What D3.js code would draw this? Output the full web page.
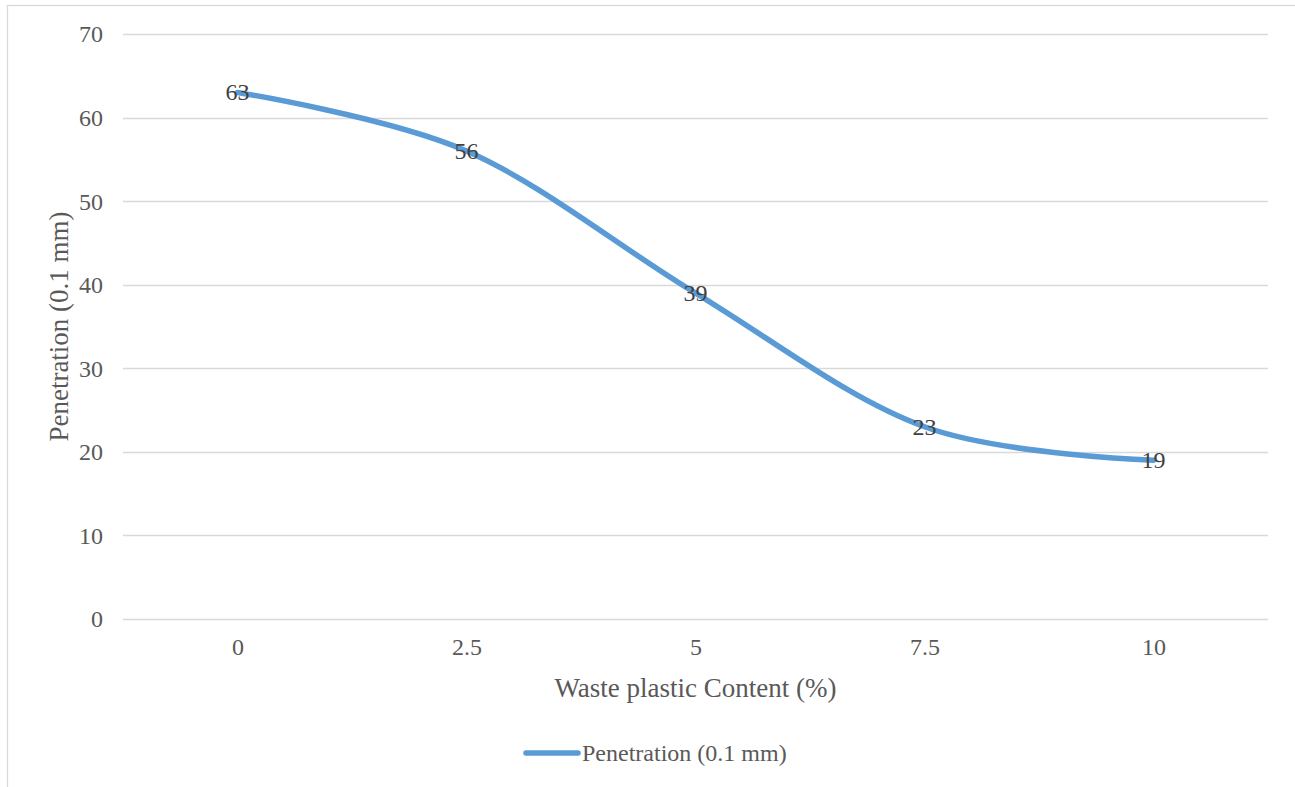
<!DOCTYPE html>
<html>
<head>
<meta charset="utf-8">
<script src="https://cdn.jsdelivr.net/npm/d3@7/dist/d3.min.js"></script>
<style>
  html, body { margin: 0; padding: 0; background: #ffffff; }
  svg { display: block; }
  text { font-family: "Liberation Serif", "Times New Roman", serif; }
</style>
</head>
<body>
<svg id="chart" width="1295" height="787"></svg>
<script>
// Penetration of binder vs waste plastic content
const categories = ["0", "2.5", "5", "7.5", "10"];
const penetration = [63, 56, 39, 23, 19];
const yTicks = [0, 10, 20, 30, 40, 50, 60, 70];
const seriesName = "Penetration (0.1 mm)";
const xTitle = "Waste plastic Content (%)";
const yTitle = "Penetration (0.1 mm)";

const svg = d3.select("#chart");
const W = 1295, H = 787;

// chart frame
svg.append("rect")
  .attr("x", 7.5).attr("y", 5.5)
  .attr("width", W + 10).attr("height", H + 10)
  .attr("fill", "#ffffff").attr("stroke", "#d9d9d9").attr("stroke-width", 1.3);

const plot = { left: 123, right: 1268, top: 34, bottom: 619 };

const x = d3.scalePoint().domain(categories)
  .range([plot.left, plot.right]).padding(0.5);
const y = d3.scaleLinear().domain([0, 70]).range([plot.bottom, plot.top]);

// gridlines
svg.append("g").selectAll("line").data(yTicks).join("line")
  .attr("x1", plot.left).attr("x2", plot.right)
  .attr("y1", d => Math.round(y(d)) + 0.5).attr("y2", d => Math.round(y(d)) + 0.5)
  .attr("stroke", "#d9d9d9").attr("stroke-width", 1.3);

// y axis labels
const yAxis = d3.axisLeft(y).tickValues(yTicks).tickSize(0).tickPadding(0);
const gy = svg.append("g").attr("transform", `translate(${plot.left - 20},0)`).call(yAxis);
gy.select(".domain").remove();
gy.selectAll("text")
  .attr("font-family", "Liberation Serif, Times New Roman, serif")
  .attr("font-size", 24).attr("fill", "#595959").attr("dy", "0.33em");

// x axis labels
const xAxis = d3.axisBottom(x).tickSize(0).tickPadding(0);
const gx = svg.append("g").attr("transform", `translate(0,${plot.bottom + 19})`).call(xAxis);
gx.select(".domain").remove();
gx.selectAll("text")
  .attr("font-family", "Liberation Serif, Times New Roman, serif")
  .attr("font-size", 24).attr("fill", "#595959").attr("dy", "0.71em");

// axis titles
svg.append("text")
  .attr("x", (plot.left + plot.right) / 2).attr("y", 697)
  .attr("text-anchor", "middle").attr("font-size", 27).attr("fill", "#595959")
  .text(xTitle);
svg.append("text")
  .attr("transform", `translate(68,${(plot.top + plot.bottom) / 2 + 0}) rotate(-90)`)
  .attr("text-anchor", "middle").attr("font-size", 27).attr("fill", "#595959")
  .text(yTitle);

// smoothed series line
const line = d3.line()
  .x((d, i) => x(categories[i]))
  .y(d => y(d))
  .curve(d3.curveCardinal.tension(0));
svg.append("path")
  .datum(penetration)
  .attr("d", line)
  .attr("fill", "none")
  .attr("stroke", "#5b9bd5")
  .attr("stroke-width", 5.5)
  .attr("stroke-linecap", "round");

// data labels centred on points
svg.append("g").selectAll("text").data(penetration).join("text")
  .attr("x", (d, i) => x(categories[i]))
  .attr("y", d => y(d))
  .attr("dy", "0.33em")
  .attr("text-anchor", "middle")
  .attr("font-size", 24).attr("fill", "#404040")
  .text(d => d);

// legend
const lg = svg.append("g").attr("transform", "translate(0,753)");
lg.append("line")
  .attr("x1", 526).attr("x2", 578).attr("y1", 0).attr("y2", 0)
  .attr("stroke", "#5b9bd5").attr("stroke-width", 5.5).attr("stroke-linecap", "round");
lg.append("text")
  .attr("x", 582).attr("y", 0).attr("dy", "0.33em")
  .attr("font-size", 24).attr("fill", "#595959")
  .text(seriesName);
</script>
</body>
</html>
